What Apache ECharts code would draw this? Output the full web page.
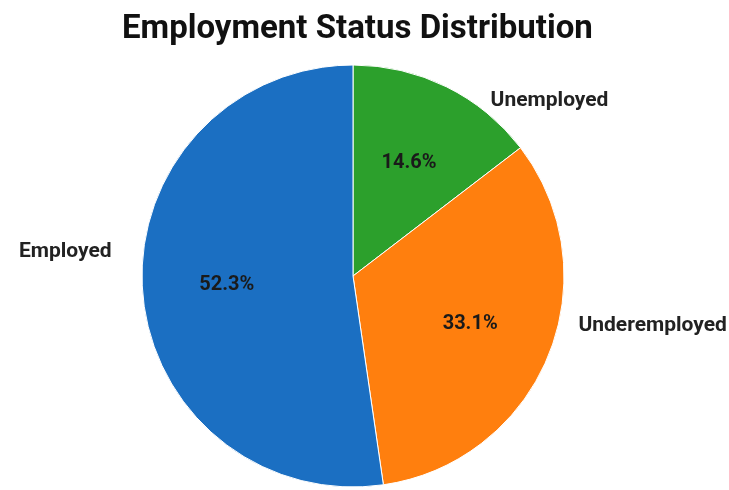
<!DOCTYPE html>
<html><head><meta charset="utf-8">
<script src="https://cdn.jsdelivr.net/npm/echarts@6/dist/echarts.min.js"></script>
<style>html,body{margin:0;padding:0;background:#fff}#c{width:729px;height:490px}</style>
</head><body><div id="c"></div>
<script>
const categories = ['Unemployed', 'Underemployed', 'Employed'];
const shares = [14.6, 33.1, 52.3];
const colors = ['#2ca02c', '#ff7f0e', '#1b6fc2'];

const data = categories.map((n, i) => ({ name: n, value: shares[i], itemStyle: { color: colors[i] } }));
const chart = echarts.init(document.getElementById('c'));
const font = 'Roboto, "Liberation Sans", Arial, sans-serif';
const labelShift = [[33, 26], [12, -35], [-12, -40]];
chart.setOption({
  animation: false,
  title: { text: 'Employment Status Distribution', left: 117, top: 8,
    textStyle: { fontFamily: font, fontWeight: 'bold', fontSize: 33, color: '#111' } },
  series: [
    { type: 'pie', center: [353, 276], radius: [0, 211], startAngle: 90, clockwise: true,
      data: data, silent: true,
      itemStyle: { borderColor: '#fff', borderWidth: 1 },
      label: { show: true, position: 'outside', formatter: '{b}', fontFamily: font, fontWeight: 'bold', fontSize: 21, color: '#222' },
      labelLine: { show: false, length: 14, length2: 0 },
      labelLayout: p => ({ dx: labelShift[p.dataIndex][0], dy: labelShift[p.dataIndex][1] }) },
    { type: 'pie', center: [353, 276], radius: [36, 211], startAngle: 90, clockwise: true,
      data: data.map(d => ({ name: d.name, value: d.value, itemStyle: { color: 'transparent' } })), silent: true,
      label: { show: true, position: 'inside', formatter: p => p.value.toFixed(1) + '%', fontFamily: font, fontWeight: 'bold', fontSize: 20, color: '#1a1a1a' },
      labelLine: { show: false } }
  ]
});
</script></body></html>
